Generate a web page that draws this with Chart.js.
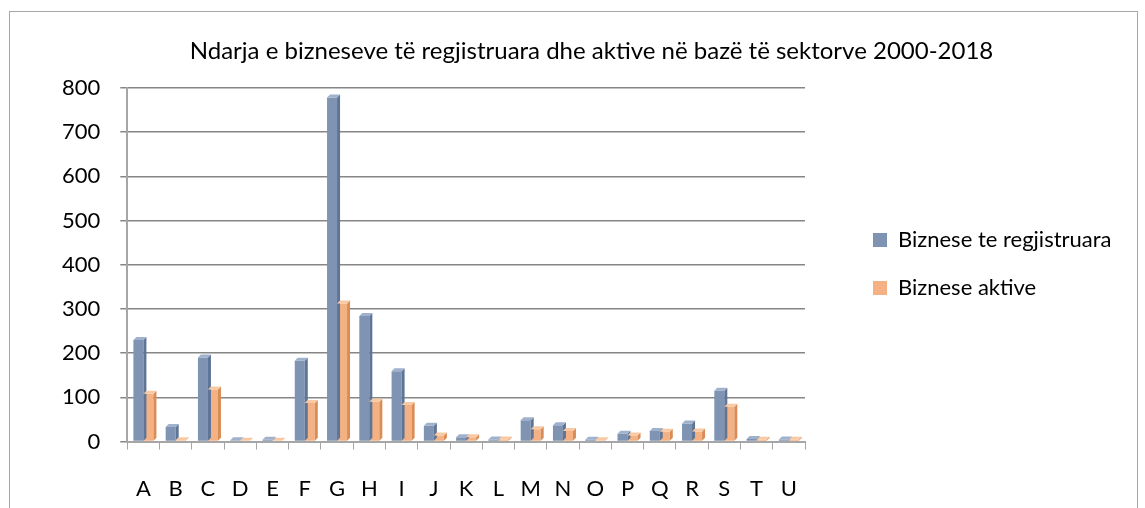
<!DOCTYPE html>
<html>
<head>
<meta charset="utf-8">
<script src="https://cdn.jsdelivr.net/npm/chart.js@4.4.0/dist/chart.umd.min.js"></script>
<style>
  html, body { margin: 0; padding: 0; background: #fff; }
  #wrap { position: relative; width: 1145px; height: 508px; }
  #frame { position: absolute; left: 9px; top: 11px; width: 1129px; height: 510px;
           border: 1px solid #a6a6a6; box-sizing: border-box; pointer-events: none; }
</style>
</head>
<body>
<div id="wrap">
  <canvas id="chart" width="1145" height="508"></canvas>
  <div id="frame"></div>
</div>
<script>
// sectors A..U
const sectors = ['A', 'B', 'C', 'D', 'E', 'F', 'G', 'H', 'I', 'J', 'K',
                 'L', 'M', 'N', 'O', 'P', 'Q', 'R', 'S', 'T', 'U'];
// values
const registered = [230, 33, 190, 3, 4, 183, 778, 284, 159, 36, 10,
                    5, 48, 37, 4, 18, 24, 41, 115, 6, 5];
const active = [108, 3, 118, 2, 2, 87, 312, 90, 83, 14, 10,
                5, 28, 24, 3, 14, 22, 23, 79, 4, 4];
const yTicks = [0, 100, 200, 300, 400, 500, 600, 700, 800];

const titleText = 'Ndarja e bizneseve të regjistruara dhe aktive në bazë të sektorve 2000-2018';
const FONT = 'Lato, "Noto Sans", sans-serif';

// legend box is wider than its text in the original, with the keys pushed right
const LEGEND_W = 336;
const LEGEND_SHIFT = 42;

// little fake depth on each bar, like the Excel 3D columns
const depthPlugin = {
    id: 'depth',
    afterDatasetsDraw(chart) {
        const ctx = chart.ctx;
        const dx = 3, dy = 3;
        const sides = ['#5f7597', '#d98c55'];
        const tops = ['#9fb1cc', '#f9c9a4'];
        chart.data.datasets.forEach((ds, i) => {
            chart.getDatasetMeta(i).data.forEach(bar => {
                const left = bar.x - bar.width / 2;
                const right = bar.x + bar.width / 2;
                const top = bar.y;
                const base = bar.base;
                ctx.save();
                ctx.fillStyle = sides[i];
                ctx.beginPath();
                ctx.moveTo(right, base);
                ctx.lineTo(right + dx, base - dy);
                ctx.lineTo(right + dx, top - dy);
                ctx.lineTo(right, top);
                ctx.closePath();
                ctx.fill();
                ctx.fillStyle = tops[i];
                ctx.beginPath();
                ctx.moveTo(left, top);
                ctx.lineTo(left + dx, top - dy);
                ctx.lineTo(right + dx, top - dy);
                ctx.lineTo(right, top);
                ctx.closePath();
                ctx.fill();
                ctx.restore();
            });
        });
    }
};

const legendPlace = {
    id: 'legendPlace',
    beforeLayout(chart) {
        const lg = chart.legend;
        if (lg && !lg._fixedFit) {
            const fit = lg.fit;
            lg.fit = function () {
                fit.call(this);
                this.width = LEGEND_W;
            };
            lg._fixedFit = true;
        }
    },
    afterLayout(chart) {
        if (chart.legend) chart.legend.left += LEGEND_SHIFT;
    }
};

new Chart(document.getElementById('chart'), {
    type: 'bar',
    data: {
        labels: sectors,
        datasets: [
            {
                label: 'Biznese te regjistruara',
                data: registered,
                backgroundColor: '#7f93b2',
                categoryPercentage: 0.62,
                barPercentage: 1.0
            },
            {
                label: 'Biznese aktive',
                data: active,
                backgroundColor: '#f4b183',
                categoryPercentage: 0.62,
                barPercentage: 1.0
            }
        ]
    },
    options: {
        responsive: false,
        animation: false,
        layout: {
            padding: { left: 42, right: 4, top: 0, bottom: -20 }
        },
        plugins: {
            title: {
                display: true,
                text: titleText,
                color: '#000',
                font: { family: FONT, size: 24, weight: 'normal' },
                padding: { top: 37, bottom: 22 }
            },
            legend: {
                position: 'right',
                labels: {
                    color: '#000',
                    font: { family: FONT, size: 22 },
                    boxWidth: 14,
                    boxHeight: 14,
                    padding: 26
                }
            },
            tooltip: { enabled: false }
        },
        scales: {
            x: {
                grid: {
                    offset: true,
                    drawOnChartArea: false,
                    color: '#a6a6a6',
                    tickLength: 8
                },
                border: { color: '#a6a6a6', width: 2 },
                ticks: {
                    color: '#000',
                    font: { family: FONT, size: 22 },
                    padding: 26
                }
            },
            y: {
                min: 0,
                max: 800,
                afterBuildTicks(axis) {
                    axis.ticks = yTicks.map(v => ({ value: v }));
                },
                grid: {
                    color: '#868686',
                    lineWidth: 1.5,
                    tickLength: 7
                },
                border: { color: '#a6a6a6', width: 2 },
                ticks: {
                    color: '#000',
                    font: { family: FONT, size: 22 },
                    padding: 20
                }
            }
        }
    },
    plugins: [depthPlugin, legendPlace]
});
</script>
</body>
</html>
